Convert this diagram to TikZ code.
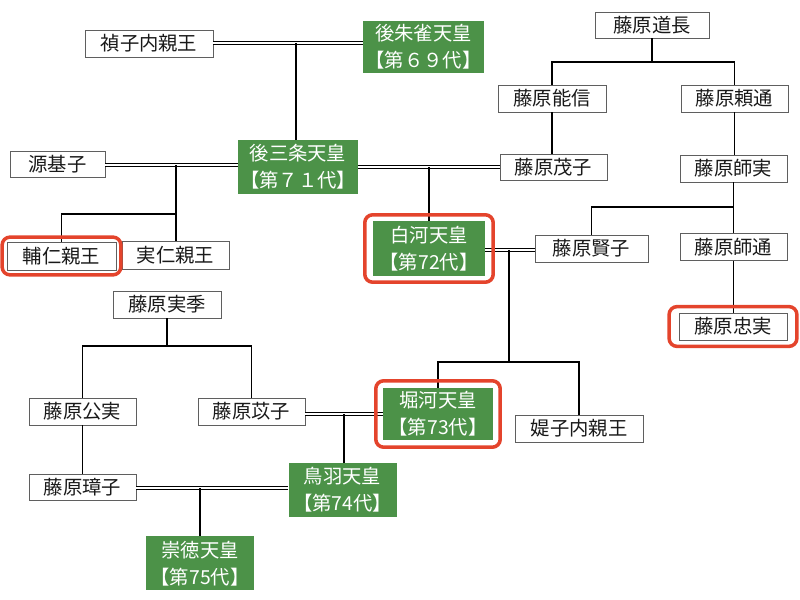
\documentclass[tikz,border=0pt]{standalone}
\usepackage{fontspec}
\setmainfont{Noto Sans CJK JP}
\usetikzlibrary{fit}
\definecolor{emgreen}{RGB}{76,146,72}
\definecolor{hlred}{RGB}{228,68,44}
\definecolor{boxgray}{RGB}{95,95,95}
\definecolor{txt}{RGB}{25,25,25}
\tikzset{
  sz/.style 2 args={minimum width=#1*0.03cm, minimum height=#2*0.03cm},
  pbox/.style={draw=boxgray, line width=0.7pt, fill=white, text=txt, inner sep=0pt,
    font=\fontsize{16.5}{23}\selectfont},
  ebox/.style={fill=emgreen, text=white, inner sep=0pt, align=center,
    font=\fontsize{16.5}{23}\selectfont},
  conn/.style={draw=black, line width=1.1pt},
  dbl/.style={draw=black, line width=0.95pt, double=white, double distance=1.9pt},
  hl/.style={draw=hlred, line width=3pt, rounded corners=0.24cm},
}
\begin{document}
\begin{tikzpicture}[x=0.03cm, y=-0.03cm]
\useasboundingbox (0,0) rectangle (800,600);
% persons
\node[pbox, sz={128}{27}] (zishi) at (149,43.5) {禎子内親王};
\node[ebox, sz={121}{52}] (gosuzaku) at (423.5,47) {後朱雀天皇\\【第６９代】};
\node[ebox, sz={120}{54}] (gosanjo) at (298,167) {後三条天皇\\【第７１代】};
\node[pbox, sz={95}{26}] (genkishi) at (57.5,164) {源基子};
\node[pbox, sz={109}{28}] (sukehito) at (61.5,256) {輔仁親王};
\node[pbox, sz={107}{28}] (sanehito) at (175.5,255) {実仁親王};
\node[pbox, sz={114}{26}] (michinaga) at (652,25) {藤原道長};
\node[pbox, sz={108}{27}] (yoshinobu) at (552,98.5) {藤原能信};
\node[pbox, sz={107}{27}] (yorimichi) at (734.5,98.5) {藤原頼通};
\node[pbox, sz={107}{26}] (shigeko) at (553.5,167) {藤原茂子};
\node[pbox, sz={107}{27}] (morozane) at (733.5,168.5) {藤原師実};
\node[pbox, sz={113}{27}] (kenshi) at (591.5,248.5) {藤原賢子};
\node[pbox, sz={107}{27}] (moromichi) at (733.5,247) {藤原師通};
\node[pbox, sz={108}{27}] (tadazane) at (733,326.5) {藤原忠実};
\node[ebox, sz={112}{55}] (shirakawa) at (429,248.5) {白河天皇\\【第72代】};
\node[ebox, sz={110}{52}] (horikawa) at (438,414) {堀河天皇\\【第73代】};
\node[pbox, sz={128}{27}] (teishi) at (579,428.5) {媞子内親王};
\node[pbox, sz={108}{27}] (sanesue) at (167,304.5) {藤原実季};
\node[pbox, sz={107}{27}] (kinzane) at (82.5,411.5) {藤原公実};
\node[pbox, sz={107}{27}] (ishi) at (251.5,411.5) {藤原苡子};
\node[ebox, sz={108}{54}] (toba) at (342.5,490) {鳥羽天皇\\【第74代】};
\node[pbox, sz={107}{26}] (shoshi) at (82.5,487) {藤原璋子};
\node[ebox, sz={108}{54}] (sutoku) at (200,563.5) {崇徳天皇\\【第75代】};
% junction coordinates
\coordinate (m1) at (296,43);
\coordinate (m2) at (176,165);
\coordinate (j2) at (176,214);
\coordinate (m3) at (429,167);
\coordinate (j4) at (652,62);
\coordinate (j6) at (733.5,207);
\coordinate (m8) at (509,250);
\coordinate (j8) at (509,362);
\coordinate (j9) at (167,346);
\coordinate (m10) at (344,414);
\coordinate (m12) at (200,488);
% marriages (double lines)
\draw[dbl] (zishi.east |- m1) -- (gosuzaku.west |- m1);
\draw[dbl] (genkishi.east |- m2) -- (gosanjo.west |- m2);
\draw[dbl] (gosanjo.east |- m3) -- (shigeko.west |- m3);
\draw[dbl] (shirakawa.east |- m8) -- (kenshi.west |- m8);
\draw[dbl] (ishi.east |- m10) -- (horikawa.west |- m10);
\draw[dbl] (shoshi.east |- m12) -- (toba.west |- m12);
% descent lines
\draw[conn] (m1) -- (m1 |- gosanjo.north);
\draw[conn] (m2) -- (m2 |- sanehito.north);
\draw[conn] (j2) -| (sukehito.north);
\draw[conn] (m3) -- (m3 |- shirakawa.north);
\draw[conn] (michinaga.south) -- (j4);
\draw[conn] (yoshinobu.north) |- (j4) -| (yorimichi.north);
\draw[conn] (yoshinobu.south) -- (yoshinobu.south |- shigeko.north);
\draw[conn] (yorimichi.south) -- (yorimichi.south |- morozane.north);
\draw[conn] (morozane.south) -- (moromichi.north);
\draw[conn] (j6) -| (kenshi.north);
\draw[conn] (moromichi.south) -- (moromichi.south |- tadazane.north);
\draw[conn] (m8) -- (j8);
\draw[conn] (horikawa.north) |- (j8) -| (teishi.north);
\draw[conn] (sanesue.south) -- (j9);
\draw[conn] (kinzane.north) |- (j9) -| (ishi.north);
\draw[conn] (m10) -- (m10 |- toba.north);
\draw[conn] (kinzane.south) -- (shoshi.north);
\draw[conn] (m12) -- (m12 |- sutoku.north);
% highlights
\node[hl, fit=(sukehito), inner xsep=4.5*0.03cm, inner ysep=4.5*0.03cm] (hl1) {};
\node[hl, fit=(shirakawa), inner xsep=8*0.03cm, inner ysep=6*0.03cm] (hl2) {};
\node[hl, fit=(horikawa), inner xsep=7*0.03cm, inner ysep=7*0.03cm] (hl3) {};
\node[hl, fit=(tadazane), inner xsep=9.5*0.03cm, inner ysep=6*0.03cm] (hl4) {};
\end{tikzpicture}
\end{document}
